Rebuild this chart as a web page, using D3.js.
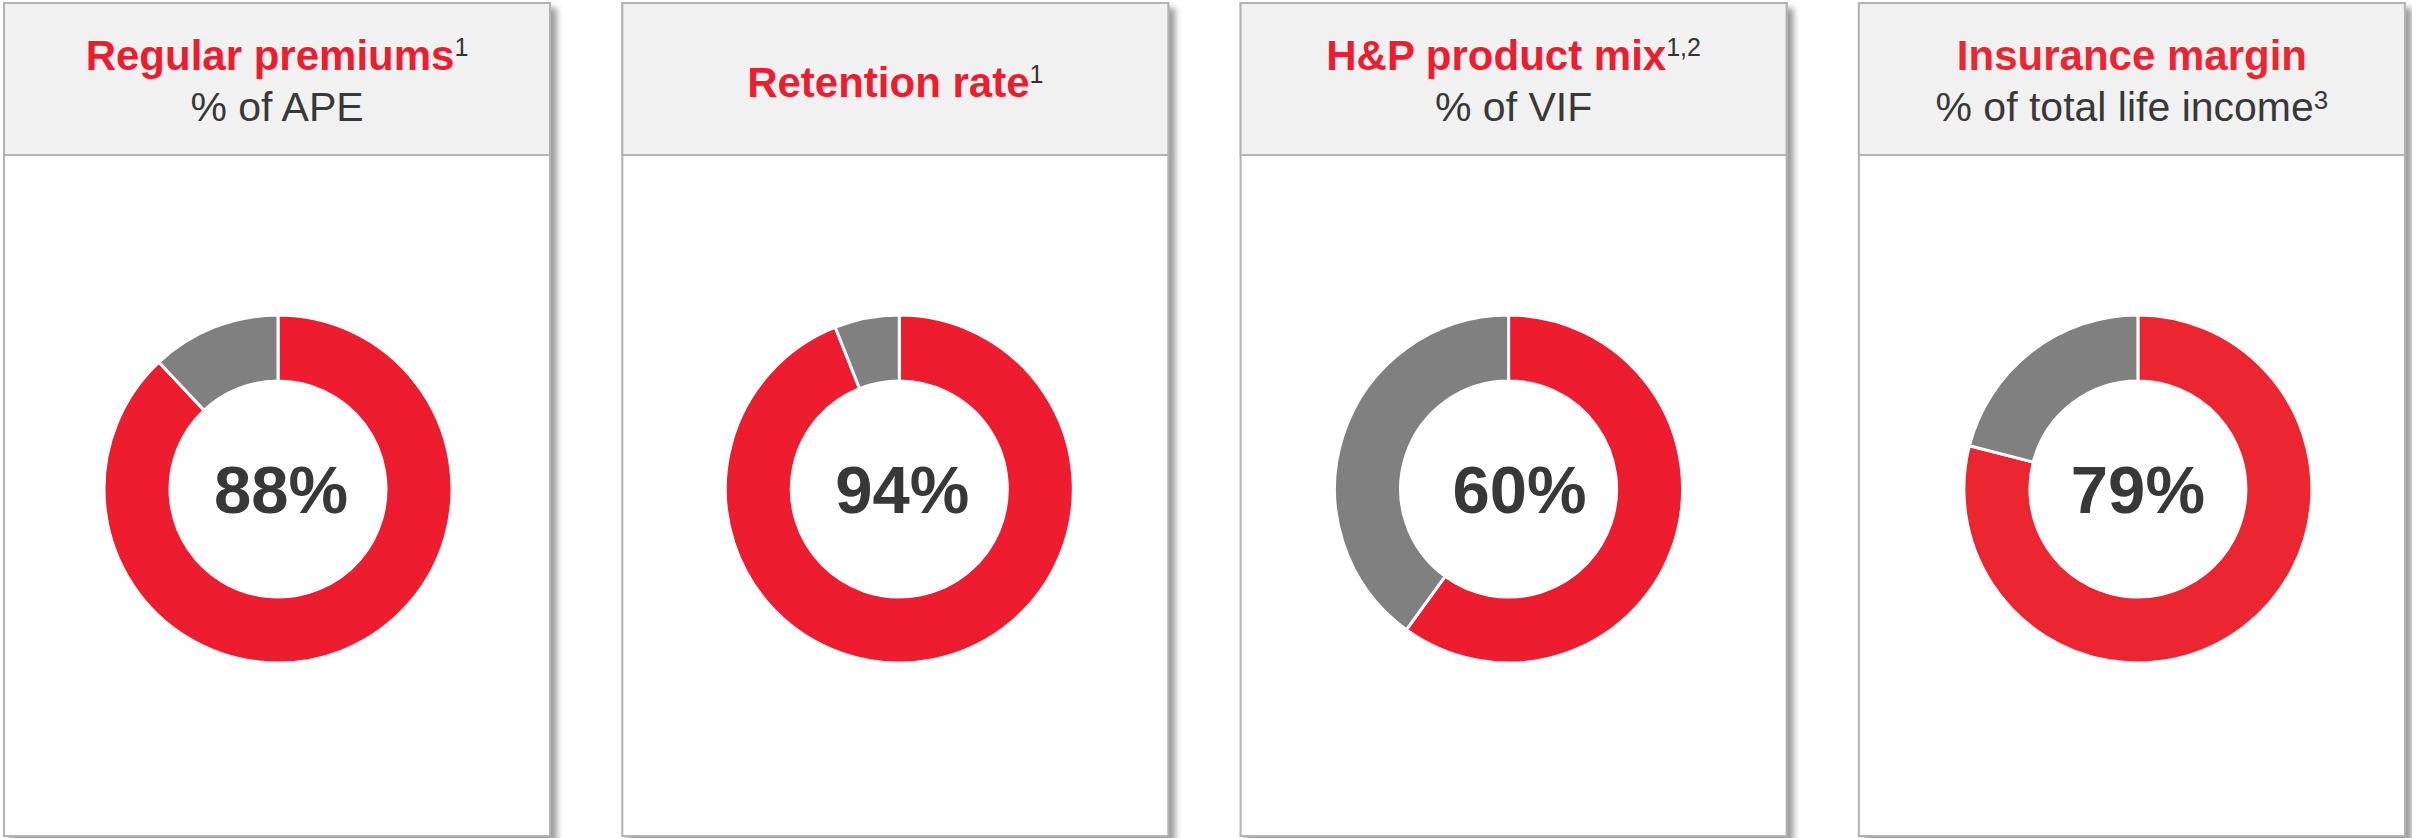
<!DOCTYPE html>
<html>
<head>
<meta charset="utf-8">
<script src="https://cdn.jsdelivr.net/npm/d3@7/dist/d3.min.js"></script>
<style>
  html, body { margin: 0; padding: 0; background: #ffffff; }
  svg { display: block; }
  text { font-family: "Liberation Sans", Arial, sans-serif; }
</style>
</head>
<body>
<svg id="chart" width="2412" height="838"></svg>
<script>
// KPI donuts: share of each measure shown in red, remainder in grey
const titles    = ["Regular premiums", "Retention rate", "H&P product mix", "Insurance margin"];
const titleSups = ["1", "1", "1,2", ""];
const subtitles = ["% of APE", "", "% of VIF", "% of total life income"];
const subSups   = ["", "", "", "3"];
const shares    = [88, 94, 60, 79];
const reds      = ["#ED1C2E", "#ED1C2E", "#ED1C2E", "#EC2631"];

const W = 2412, H = 838;
const panelW = 546, panelTop = 3, panelBottom = 836, headerH = 152;
const firstLeft = 4, step = 618.3;
const donutCy = 489, rOuter = 174, rInner = 108;
const donutDx = [1, 4, -5, 6];   // small horizontal nudges of each donut inside its card
const labelDx = [3, 3, 11, 0];

const svg = d3.select("#chart");

const defs = svg.append("defs");
const shadow = defs.append("filter").attr("id", "cardShadow")
  .attr("x", "-5%").attr("y", "-5%").attr("width", "115%").attr("height", "115%");
shadow.append("feDropShadow")
  .attr("dx", 6).attr("dy", 6).attr("stdDeviation", 3)
  .attr("flood-color", "#7a7a7a").attr("flood-opacity", 0.75);

const x = d3.scaleLinear().domain([0, 1]).range([firstLeft, firstLeft + step]);

const pie = d3.pie().sort(null).value(d => d.v).startAngle(0).endAngle(2 * Math.PI);
const arc = d3.arc().innerRadius(rInner).outerRadius(rOuter);

shares.forEach((share, i) => {
  const left = x(i);
  const cx = left + panelW / 2;
  const g = svg.append("g");

  // card body with shadow
  g.append("rect")
    .attr("x", left).attr("y", panelTop)
    .attr("width", panelW).attr("height", panelBottom - panelTop)
    .attr("fill", "#ffffff")
    .attr("stroke", "#b3b3b3").attr("stroke-width", 2)
    .attr("filter", "url(#cardShadow)");

  // header band
  g.append("rect")
    .attr("x", left).attr("y", panelTop)
    .attr("width", panelW).attr("height", headerH)
    .attr("fill", "#f1f1f1")
    .attr("stroke", "#b3b3b3").attr("stroke-width", 2);

  // title with superscript note
  const hasSub = subtitles[i] !== "";
  const title = g.append("text")
    .attr("x", cx).attr("y", hasSub ? 70 : 97)
    .attr("text-anchor", "middle")
    .attr("font-size", 42).attr("font-weight", "bold")
    .attr("fill", reds[i]);
  title.append("tspan").text(titles[i]);
  if (titleSups[i]) {
    title.append("tspan")
      .attr("dy", -14).attr("font-size", 25).attr("font-weight", "normal")
      .attr("fill", "#333333")
      .text(titleSups[i]);
  }

  if (hasSub) {
    const sub = g.append("text")
      .attr("x", cx).attr("y", 121)
      .attr("text-anchor", "middle")
      .attr("font-size", 41)
      .attr("fill", "#383838");
    sub.append("tspan").text(subtitles[i]);
    if (subSups[i]) {
      sub.append("tspan")
        .attr("dy", -12).attr("font-size", 26)
        .text(subSups[i]);
    }
  }

  // donut
  const data = [{ k: "share", v: share }, { k: "rest", v: 100 - share }];
  const dg = g.append("g").attr("transform", `translate(${cx + donutDx[i]},${donutCy})`);
  dg.selectAll("path")
    .data(pie(data))
    .join("path")
    .attr("d", arc)
    .attr("fill", d => d.data.k === "share" ? reds[i] : "#808080")
    .attr("stroke", "#ffffff")
    .attr("stroke-width", 3)
    .attr("stroke-linejoin", "miter");

  dg.append("text")
    .attr("x", labelDx[i]).attr("y", 24)
    .attr("text-anchor", "middle")
    .attr("font-size", 67).attr("font-weight", "bold")
    .attr("fill", "#383838")
    .text(share + "%");
});
</script>
</body>
</html>
